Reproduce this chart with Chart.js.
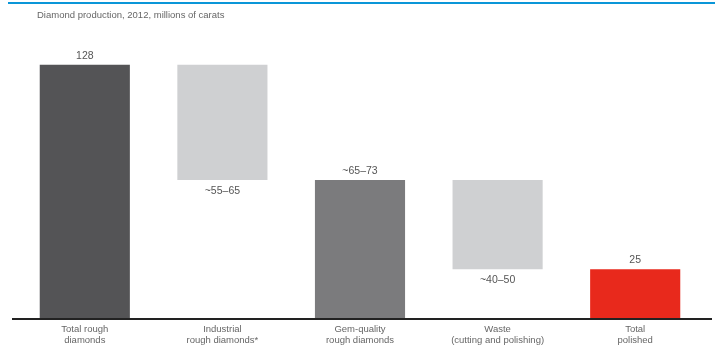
<!DOCTYPE html>
<html>
<head>
<meta charset="utf-8">
<script src="https://cdn.jsdelivr.net/npm/chart.js@4/dist/chart.umd.min.js"></script>
<style>
  body { margin: 0; background: #fff; }
  #wrap { width: 715px; height: 354px; position: relative; }
</style>
</head>
<body>
<div id="wrap"><canvas id="grafico"></canvas></div>
<script>
// datos
const categorias = [
  ['Total rough', 'diamonds'],
  ['Industrial', 'rough diamonds*'],
  ['Gem-quality', 'rough diamonds'],
  ['Waste', '(cutting and polishing)'],
  ['Total', 'polished']
];
const inicio = [0, 70, 0, 25, 0];
const fin = [128, 128, 70, 70, 25];
const etiquetas = ['128', '~55–65', '~65–73', '~40–50', '25'];
const etiquetaAbajo = [false, true, false, true, false];
const colores = ['#545456', '#cfd0d2', '#7b7b7d', '#cfd0d2', '#e8291c'];
const titulo = 'Diamond production, 2012, millions of carats';

const rangos = inicio.map((v, i) => [v, fin[i]]);

const extras = {
  id: 'extras',
  afterDraw(chart) {
    const ctx = chart.ctx;
    ctx.save();
    // linea azul arriba
    ctx.fillStyle = '#0a96d8';
    ctx.fillRect(8, 2, 707, 2);
    // titulo
    ctx.fillStyle = '#666';
    ctx.font = '9.5px "Liberation Sans", Arial, sans-serif';
    ctx.textAlign = 'left';
    ctx.textBaseline = 'middle';
    ctx.fillText(titulo, 37, 15);
    // linea base
    const y0 = chart.scales.y.getPixelForValue(0);
    ctx.fillStyle = '#222';
    ctx.fillRect(12, y0 - 1, 700, 2);
    // etiquetas de valores
    const meta = chart.getDatasetMeta(0);
    ctx.fillStyle = '#555';
    ctx.font = '10.5px "Liberation Sans", Arial, sans-serif';
    ctx.textAlign = 'center';
    meta.data.forEach((bar, i) => {
      const top = Math.min(bar.y, bar.base);
      const bottom = Math.max(bar.y, bar.base);
      const y = etiquetaAbajo[i] ? bottom + 11 : top - 9;
      ctx.fillText(etiquetas[i], bar.x, y);
    });
    ctx.restore();
  }
};

new Chart(document.getElementById('grafico'), {
  type: 'bar',
  data: {
    labels: categorias,
    datasets: [{
      data: rangos,
      backgroundColor: colores,
      borderWidth: 0,
      barPercentage: 0.655,
      categoryPercentage: 1
    }]
  },
  options: {
    responsive: true,
    maintainAspectRatio: false,
    animation: false,
    layout: { padding: { left: 16, right: 11, top: 41, bottom: 0 } },
    plugins: {
      legend: { display: false },
      tooltip: { enabled: false },
      title: { display: false }
    },
    scales: {
      x: {
        grid: { display: false, drawTicks: false },
        border: { display: false },
        ticks: {
          color: '#666',
          font: { family: '"Liberation Sans", Arial, sans-serif', size: 9.5, lineHeight: 1.25 },
          padding: 4,
          maxRotation: 0,
          autoSkip: false
        },
        afterFit(scale) { scale.height = 35; }
      },
      y: {
        display: false,
        min: 0,
        max: 140
      }
    }
  },
  plugins: [extras]
});
</script>
</body>
</html>
